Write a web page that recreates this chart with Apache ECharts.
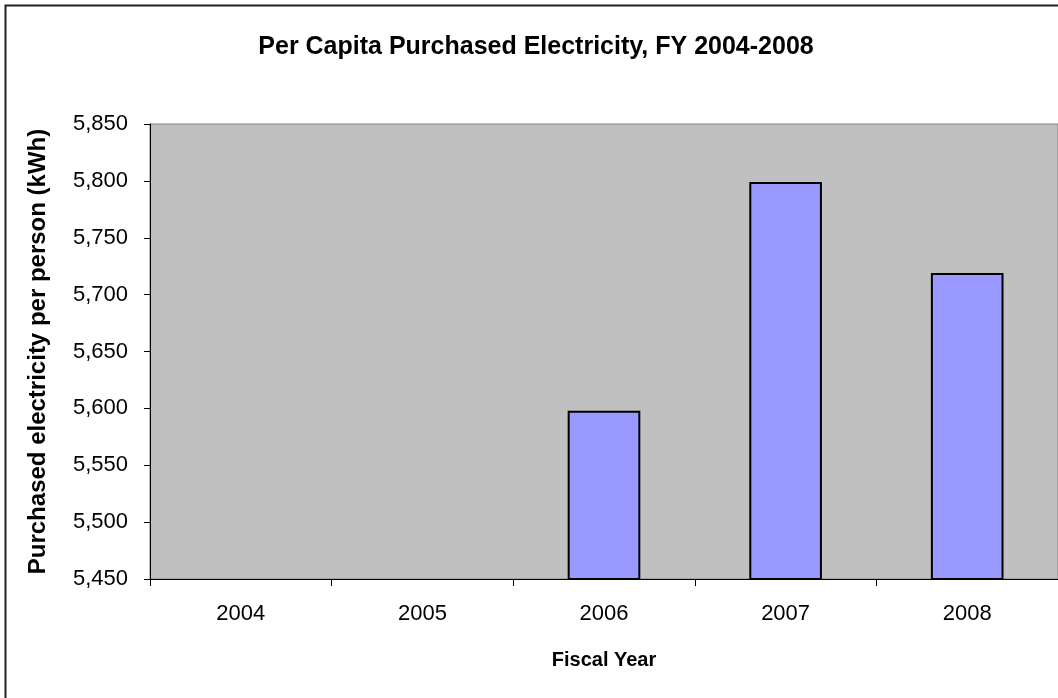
<!DOCTYPE html>
<html>
<head>
<meta charset="utf-8">
<script src="https://cdn.jsdelivr.net/npm/echarts@6/dist/echarts.min.js"></script>
<style>
  html, body { margin: 0; padding: 0; background: #ffffff; }
  #chart { width: 1058px; height: 698px; }
</style>
</head>
<body>
<div id="chart"></div>
<script>
// Fiscal years on the category axis
const years = ['2004', '2005', '2006', '2007', '2008'];
// Purchased electricity per person (kWh); no value for the first two years
const kwhPerPerson = [null, null, 5598, 5799, 5719];
// Value axis range and step
const yMin = 5450;
const yMax = 5850;
const yStep = 50;

const font = '"Liberation Sans", Arial, sans-serif';
const chart = echarts.init(document.getElementById('chart'), null, { renderer: 'canvas' });

chart.setOption({
  animation: false,
  backgroundColor: '#ffffff',
  title: {
    text: 'Per Capita Purchased Electricity, FY 2004-2008',
    left: 531,
    textAlign: 'center',
    top: 30,
    textStyle: { fontFamily: font, fontSize: 25, fontWeight: 'bold', color: '#000' }
  },
  graphic: [{
    type: 'rect',
    shape: { x: 5.5, y: 5.5, width: 1200, height: 900 },
    style: { fill: null, stroke: '#222', lineWidth: 2 },
    silent: true,
    z: 100
  }],
  grid: {
    left: 150,
    top: 124,
    width: 909,
    height: 455,
    show: true,
    backgroundColor: '#c0c0c0',
    borderColor: '#808080',
    borderWidth: 1
  },
  xAxis: {
    type: 'category',
    data: years,
    name: 'Fiscal Year',
    nameLocation: 'middle',
    nameGap: 71,
    nameTextStyle: { fontFamily: font, fontSize: 20, fontWeight: 'bold', color: '#000' },
    axisLine: { show: true, lineStyle: { color: '#000', width: 1 } },
    axisTick: { show: true, length: 7, lineStyle: { color: '#000' } },
    axisLabel: { fontFamily: font, fontSize: 22, color: '#000', margin: 24 },
    splitLine: { show: false }
  },
  yAxis: {
    type: 'value',
    min: yMin,
    max: yMax,
    interval: yStep,
    name: 'Purchased electricity per person (kWh)',
    nameLocation: 'middle',
    nameGap: 100,
    nameRotate: 90,
    nameTextStyle: { fontFamily: font, fontSize: 24, fontWeight: 'bold', color: '#000' },
    axisLine: { show: true, lineStyle: { color: '#000', width: 1 } },
    axisTick: { show: true, length: 6, lineStyle: { color: '#000' } },
    axisLabel: {
      fontFamily: font, fontSize: 22, color: '#000', margin: 22,
      formatter: v => v.toLocaleString('en-US')
    },
    splitLine: { show: false }
  },
  series: [{
    type: 'bar',
    data: kwhPerPerson,
    barWidth: '40%',
    itemStyle: { color: '#9999ff', borderColor: '#000', borderWidth: 2 }
  }]
});
</script>
</body>
</html>
